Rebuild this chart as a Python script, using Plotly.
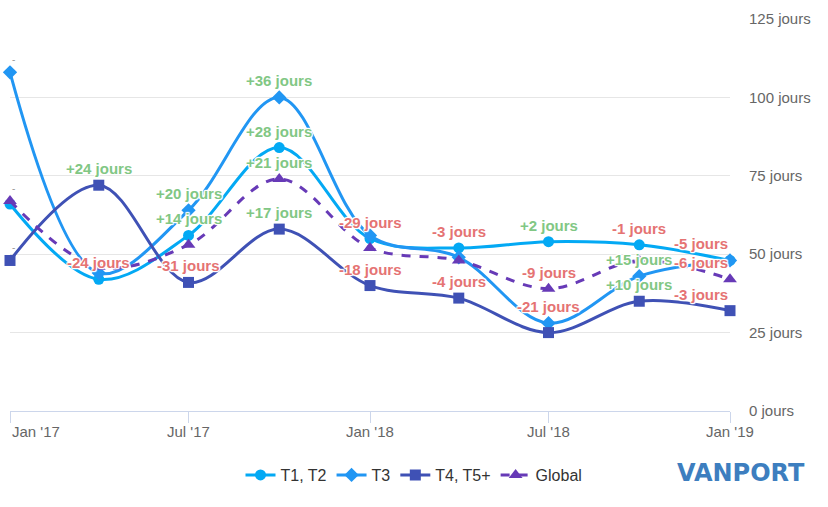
import plotly.graph_objects as go

# ---- data ----
dates = ["2017-01-01", "2017-04-01", "2017-07-01", "2017-10-01", "2018-01-01",
         "2018-04-01", "2018-07-01", "2018-10-01", "2019-01-01"]
series_names = ["T1, T2", "T3", "T4, T5+", "Global"]
t1_t2 = [66, 42, 56, 84, 55, 52, 54, 53, 48]
t3 = [108, 44, 64, 100, 56, 49, 28, 43, 48]
t4_t5 = [48, 72, 41, 58, 40, 36, 25, 35, 32]
global_ = [67, 46, 53, 74, 52, 48, 39, 48, 42]
# which variation labels are displayed (others hidden by overlap in the original)
t1_t2_shown = [0, 1, 1, 1, 1, 1, 1, 1, 1]
t3_shown = [1, 0, 1, 1, 0, 0, 1, 1, 0]
t4_t5_shown = [1, 1, 1, 1, 1, 1, 0, 1, 1]
global_shown = [1, 0, 0, 1, 0, 0, 1, 0, 1]

x_tick_vals = ["2017-01-01", "2017-07-01", "2018-01-01", "2018-07-01", "2019-01-01"]
x_tick_text = ["Jan '17", "Jul '17", "Jan '18", "Jul '18", "Jan '19"]
y_tick_vals = [0, 25, 50, 75, 100, 125]
y_tick_text = ["%d jours" % v for v in y_tick_vals]

colors = ["#03A9F4", "#2196F3", "#3F51B5", "#673AB7"]
symbols = ["circle", "diamond", "square", "triangle-up"]
dashes = ["solid", "solid", "solid", "dash"]
marker_sizes = [11, 11, 11, 12]
GREEN = "#81C784"
RED = "#E57373"
FONT = "Liberation Sans, Arial, sans-serif"

all_values = [t1_t2, t3, t4_t5, global_]
all_shown = [t1_t2_shown, t3_shown, t4_t5_shown, global_shown]

fig = go.Figure()
for name, vals, col, sym, dash, ms in zip(series_names, all_values, colors, symbols, dashes, marker_sizes):
    fig.add_trace(go.Scatter(
        x=dates, y=vals, name=name, mode="lines+markers",
        line=dict(color=col, width=3, dash=dash, shape="spline", smoothing=1.0),
        marker=dict(symbol=sym, size=ms, color=col),
        cliponaxis=False,
    ))

outline = ("1px 1px 1px #fff, -1px -1px 1px #fff, 1px -1px 1px #fff, -1px 1px 1px #fff, "
           "0px 1px 1px #fff, 0px -1px 1px #fff, 1px 0px 1px #fff, -1px 0px 1px #fff")

annotations = []
for vals, shown in zip(all_values, all_shown):
    n = len(vals)
    for i in range(n):
        if not shown[i]:
            continue
        if i == 0:
            annotations.append(dict(
                x=dates[i], y=vals[i], xref="x", yref="y", text="-", showarrow=False,
                xanchor="left", yanchor="bottom", yshift=5, xshift=0,
                font=dict(family=FONT, size=10, color="#999999")))
            continue
        d = vals[i] - vals[i - 1]
        txt = ("+%d jours" % d) if d > 0 else ("%d jours" % d)
        col = GREEN if d > 0 else RED
        annotations.append(dict(
            x=dates[i], y=vals[i], xref="x", yref="y", text="<b>%s</b>" % txt,
            showarrow=False, xanchor="right" if i == n - 1 else "center",
            yanchor="bottom", yshift=6,
            font=dict(family=FONT, size=15, color=col, shadow=outline)))

# x tick labels (first label kept inside the chart, as in the original)
for i, (tv, tt) in enumerate(zip(x_tick_vals, x_tick_text)):
    annotations.append(dict(
        x=tv, y=0, xref="x", yref="paper", text=tt, showarrow=False,
        xanchor="left" if i == 0 else "center", yanchor="middle", yshift=-20,
        font=dict(family=FONT, size=15, color="#666666")))

# logo
annotations.append(dict(
    x=1.0, y=-0.158, xref="paper", yref="paper", text="<b>VANPORT</b>",
    showarrow=False, xanchor="left", yanchor="middle", xshift=-55,
    font=dict(family="DejaVu Sans, sans-serif", size=24, color="#3D7EBF")))

fig.update_layout(
    width=828, height=507,
    margin=dict(l=10, r=98, t=12, b=96),
    plot_bgcolor="#ffffff", paper_bgcolor="#ffffff",
    showlegend=True,
    legend=dict(orientation="h", xref="container", yref="container",
                x=0.5, xanchor="center", y=1 - 475 / 507, yanchor="middle",
                font=dict(family=FONT, size=16, color="#333333"),
                itemwidth=30, tracegroupgap=0),
    annotations=annotations,
    hovermode=False,
)
fig.update_xaxes(
    type="date", range=["2017-01-01", "2019-01-01"],
    tickvals=x_tick_vals, showticklabels=False,
    ticks="outside", ticklen=11, tickcolor="#ccd6eb", tickwidth=1,
    showline=True, linecolor="#ccd6eb", linewidth=1,
    showgrid=False, zeroline=False,
)
fig.update_yaxes(
    range=[0, 125], side="right", tickvals=y_tick_vals, ticktext=y_tick_text,
    showgrid=True, gridcolor="#e6e6e6", gridwidth=1, zeroline=False,
    ticks="", ticklabelstandoff=18,
    tickfont=dict(family=FONT, size=15, color="#666666"),
)

fig.write_html("out.html")
